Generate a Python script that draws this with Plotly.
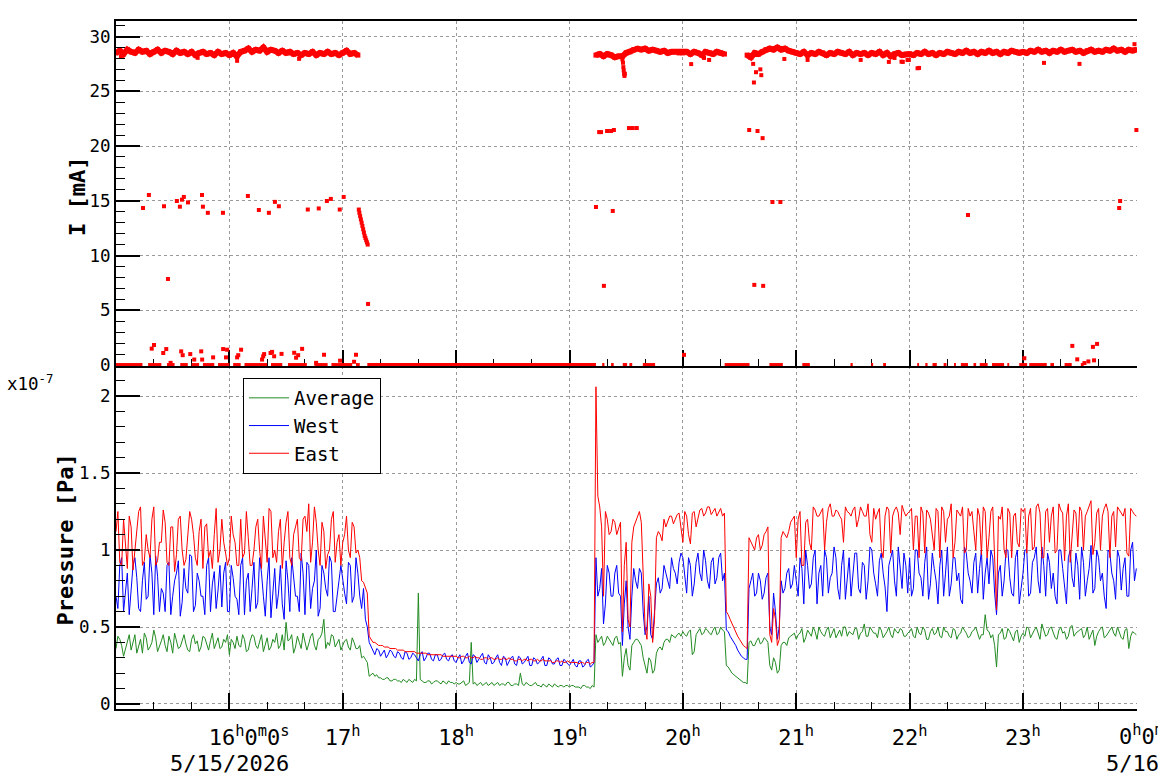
import pandas as pd
import plotly.graph_objects as go

START = pd.Timestamp("2026-05-15 15:00:00")
FONT = "DejaVu Sans Mono"

# ---------------- Pressure (units of 1e-7 Pa) ----------------
# readings at even minutes (15:00, 15:02, ... 24:00)
east_even = (
    [1.12, 0.92, 1.2, 0.88, 1.15, 1.0, 1.25, 0.9, 1.1, 0.95,
     1.28, 0.93, 1.05, 1.18, 0.9, 1.15, 0.97, 1.22, 0.9, 1.08,
     1.2, 0.95, 1.12, 0.88, 1.17, 1.0, 1.1, 0.92, 1.2, 0.98] +
    [0.95, 1.1, 0.9, 1.2, 0.98, 1.08, 0.9, 1.15, 1.0, 1.22,
     0.92, 1.25, 1.0, 1.12, 0.88, 1.18, 0.95, 1.1, 1.2, 0.93,
     1.22, 1.3, 1.05, 1.18, 0.9, 1.12, 0.97, 1.2, 0.92, 1.1] +
    [1.05, 1.22, 0.95, 1.15, 1.0, 0.8, 0.76, 0.44, 0.4, 0.39,
     0.38, 0.37, 0.37, 0.36, 0.36, 0.35, 0.35, 0.34, 0.34, 0.34,
     0.33, 0.33, 0.33, 0.32, 0.32, 0.32, 0.32, 0.31, 0.31, 0.31] +
    [0.31, 0.3, 0.31, 0.3, 0.3, 0.31, 0.3, 0.29, 0.3, 0.3,
     0.29, 0.3, 0.29, 0.29, 0.3, 0.29, 0.28, 0.29, 0.29, 0.28,
     0.29, 0.28, 0.28, 0.29, 0.28, 0.28, 0.27, 0.28, 0.28, 0.27] +
    [0.27, 0.27, 0.27, 0.27, 0.26, 0.27, 0.27, 2.06, 1.28, 0.7,
     1.2, 1.12, 1.18, 1.14, 0.47, 1.05, 0.5, 1.15, 1.22, 1.18,
     0.5, 0.78, 0.4, 1.08, 1.1, 1.2, 1.18, 1.22, 1.2, 1.24] +
    [1.05, 1.22, 1.04, 1.25, 1.2, 1.27, 1.24, 1.28, 1.25, 1.22,
     1.27, 1.24, 0.58, 0.52, 0.47, 0.42, 0.38, 0.36, 1.05, 1.0,
     1.1, 1.03, 1.12, 0.45, 0.62, 0.38, 1.08, 1.1, 1.12, 1.2] +
    [0.95, 1.25, 0.9, 1.2, 1.0, 1.26, 1.22, 1.27, 1.18, 1.3,
     1.22, 1.25, 1.2, 1.28, 1.24, 1.26, 1.15, 1.28, 1.22, 1.3,
     1.05, 1.2, 1.27, 0.95, 1.28, 0.98, 1.26, 1.24, 1.29, 1.22] +
    [1.25, 1.0, 1.22, 1.28, 0.98, 1.24, 1.1, 1.27, 0.95, 1.25,
     1.2, 1.3, 1.05, 1.24, 1.28, 1.0, 1.22, 1.12, 1.27, 0.97,
     1.25, 1.08, 1.28, 0.61, 1.2, 1.0, 1.27, 0.95, 1.24, 1.02] +
    [1.25, 0.98, 1.27, 1.02, 1.3, 0.95, 1.25, 1.05, 1.28, 1.0,
     1.26, 0.93, 1.3, 1.1, 1.24, 1.28, 1.0, 1.25, 1.32, 1.05,
     1.27, 1.22, 1.3, 0.95, 1.25, 1.28, 1.24, 1.27, 0.96, 1.25] +
    [1.22]
)
# readings at odd minutes (15:01, 15:03, ... 23:59)
east_odd = (
    [1.25, 0.9, 1.05, 1.22, 0.87, 1.1, 1.28, 0.93, 1.0, 1.2,
     0.9, 1.05, 1.26, 0.92, 1.15, 0.86, 1.2, 1.0, 0.94, 1.25,
     1.1, 0.9, 1.2, 1.15, 0.95, 0.88, 1.27, 1.0, 1.05, 0.9] +
    [1.22, 1.05, 0.9, 0.95, 1.25, 0.9, 1.0, 1.2, 0.88, 1.05,
     1.27, 0.95, 0.92, 1.2, 1.05, 1.25, 0.9, 1.15, 0.95, 1.2,
     1.12, 0.92, 1.28, 1.0, 1.18, 0.88, 1.0, 1.25, 1.05, 0.9] +
    [1.1, 1.0, 1.18, 0.98, 0.95, 0.79, 0.72, 0.42, 0.4, 0.38,
     0.38, 0.37, 0.36, 0.36, 0.35, 0.35, 0.34, 0.34, 0.34, 0.33,
     0.33, 0.33, 0.32, 0.32, 0.32, 0.32, 0.31, 0.31, 0.31, 0.31] +
    [0.3, 0.31, 0.3, 0.31, 0.3, 0.3, 0.29, 0.3, 0.29, 0.3,
     0.29, 0.29, 0.3, 0.29, 0.29, 0.28, 0.29, 0.28, 0.29, 0.29,
     0.28, 0.29, 0.28, 0.28, 0.28, 0.27, 0.28, 0.27, 0.27, 0.28] +
    [0.27, 0.27, 0.26, 0.27, 0.27, 0.26, 0.27, 1.35, 1.15, 1.25,
     1.1, 1.2, 1.1, 1.18, 0.9, 0.55, 1.05, 1.18, 1.25, 0.8,
     0.42, 0.7, 0.55, 1.12, 1.06, 1.15, 1.22, 1.17, 1.23, 1.15] +
    [1.25, 1.1, 1.24, 1.15, 1.26, 1.22, 1.28, 1.23, 1.27, 1.25,
     1.22, 0.6, 0.55, 0.5, 0.44, 0.4, 0.37, 1.08, 1.02, 1.08,
     1.0, 1.1, 1.15, 0.4, 0.55, 0.42, 1.12, 1.08, 1.18, 1.22] +
    [1.2, 0.9, 1.18, 1.05, 1.28, 1.22, 1.25, 1.0, 1.27, 1.22,
     1.26, 1.22, 1.05, 1.25, 1.22, 1.28, 1.2, 1.25, 1.22, 1.1,
     1.27, 1.24, 1.0, 1.22, 1.26, 1.22, 1.28, 1.1, 1.25, 1.24] +
    [1.27, 1.22, 0.95, 1.24, 1.26, 1.2, 1.0, 1.25, 1.28, 1.05,
     1.22, 0.95, 1.26, 1.22, 0.98, 1.27, 1.25, 1.0, 1.22, 1.28,
     0.95, 1.25, 1.0, 1.22, 1.28, 0.95, 1.24, 1.22, 1.05, 1.27] +
    [1.27, 1.22, 1.0, 1.28, 1.24, 0.95, 1.27, 1.22, 0.98, 1.3,
     1.24, 1.22, 0.92, 1.26, 1.02, 1.25, 1.22, 1.28, 0.97, 1.24,
     1.0, 1.27, 1.25, 1.22, 1.02, 1.26, 1.22, 0.98, 1.27, 1.23]
)

west_even = (
    [0.7, 0.9, 0.6, 0.85, 0.72, 0.95, 0.62, 0.8, 0.68, 0.97,
     0.58, 0.83, 0.75, 0.6, 0.92, 0.7, 0.85, 0.57, 0.88, 0.72,
     0.96, 0.64, 0.8, 0.7, 0.9, 0.6, 0.86, 0.74, 0.63, 0.92] +
    [0.6, 0.82, 0.68, 0.9, 0.58, 0.85, 0.75, 0.62, 0.95, 0.7,
     0.8, 0.56, 0.88, 0.72, 0.65, 0.93, 0.6, 0.82, 0.7, 0.98,
     0.58, 0.9, 0.75, 1.0, 0.62, 0.85, 0.7, 0.92, 0.6, 0.8] +
    [0.8, 0.65, 0.9, 0.7, 0.85, 0.62, 0.55, 0.4, 0.34, 0.36,
     0.31, 0.35, 0.32, 0.34, 0.3, 0.33, 0.29, 0.33, 0.3, 0.32,
     0.28, 0.34, 0.3, 0.33, 0.28, 0.32, 0.29, 0.33, 0.28, 0.32] +
    [0.27, 0.32, 0.28, 0.33, 0.26, 0.31, 0.29, 0.33, 0.26, 0.3,
     0.27, 0.32, 0.25, 0.3, 0.28, 0.31, 0.25, 0.3, 0.27, 0.31,
     0.25, 0.29, 0.27, 0.31, 0.25, 0.29, 0.26, 0.3, 0.25, 0.28] +
    [0.25, 0.29, 0.24, 0.28, 0.25, 0.29, 0.25, 0.95, 0.75, 0.52,
     0.9, 0.7, 0.85, 0.72, 0.38, 0.8, 0.42, 0.88, 0.75, 0.85,
     0.45, 0.7, 0.42, 0.78, 0.72, 0.9, 0.8, 0.95, 0.85, 0.92] +
    [0.95, 0.72, 0.9, 0.78, 0.98, 0.8, 0.93, 0.75, 0.95, 0.82,
     0.98, 0.85, 0.47, 0.42, 0.38, 0.33, 0.3, 0.29, 0.8, 0.7,
     0.85, 0.68, 0.82, 0.5, 0.72, 0.42, 0.8, 0.75, 0.88, 0.78] +
    [0.8, 0.95, 0.65, 0.9, 0.78, 1.0, 0.85, 0.7, 0.95, 0.82,
     1.02, 0.75, 0.9, 0.68, 0.95, 0.85, 0.98, 0.72, 0.9, 0.8,
     1.0, 0.78, 0.93, 0.85, 0.6, 0.95, 0.8, 1.02, 0.75, 0.9] +
    [0.95, 0.75, 1.0, 0.82, 0.92, 0.68, 0.98, 0.8, 0.9, 0.7,
     1.02, 0.78, 0.95, 0.85, 0.65, 0.98, 0.8, 0.92, 0.72, 1.0,
     0.85, 0.78, 0.95, 0.58, 0.9, 0.8, 1.0, 0.72, 0.95, 0.65] +
    [0.85, 1.0, 0.72, 0.95, 0.8, 1.02, 0.7, 0.92, 0.85, 0.65,
     1.0, 0.78, 0.95, 0.82, 0.98, 0.68, 0.92, 0.8, 1.03, 0.75,
     0.95, 0.85, 0.62, 0.98, 0.8, 1.0, 0.74, 0.95, 0.7, 1.05] +
    [0.88]
)
west_odd = (
    [0.62, 0.95, 0.75, 0.58, 0.9, 0.82, 0.6, 0.92, 0.7, 0.85,
     0.96, 0.6, 0.72, 0.9, 0.58, 0.8, 0.93, 0.66, 0.75, 0.97,
     0.6, 0.85, 0.7, 0.58, 0.95, 0.78, 0.62, 0.9, 0.85, 0.6] +
    [0.9, 0.7, 0.58, 0.95, 0.8, 0.6, 0.92, 0.66, 0.85, 0.57,
     0.95, 0.75, 0.62, 0.9, 0.55, 0.8, 0.95, 0.7, 0.6, 0.85,
     0.92, 0.62, 0.8, 0.57, 0.9, 0.75, 0.96, 0.6, 0.72, 0.9] +
    [0.72, 0.92, 0.66, 0.95, 0.7, 0.75, 0.5, 0.37, 0.32, 0.35,
     0.33, 0.3, 0.35, 0.31, 0.34, 0.3, 0.34, 0.29, 0.33, 0.3,
     0.32, 0.28, 0.33, 0.29, 0.32, 0.28, 0.32, 0.29, 0.31, 0.28] +
    [0.3, 0.26, 0.31, 0.27, 0.32, 0.27, 0.31, 0.27, 0.32, 0.26,
     0.3, 0.27, 0.31, 0.25, 0.3, 0.26, 0.31, 0.26, 0.29, 0.25,
     0.3, 0.26, 0.29, 0.25, 0.3, 0.26, 0.29, 0.25, 0.29, 0.26] +
    [0.27, 0.25, 0.28, 0.24, 0.28, 0.24, 0.27, 0.7, 0.88, 0.65,
     0.85, 0.7, 0.9, 0.7, 0.65, 0.5, 0.7, 0.8, 0.88, 0.6,
     0.5, 0.45, 0.6, 0.82, 0.75, 0.85, 0.75, 0.88, 0.78, 0.98] +
    [0.82, 0.95, 0.7, 0.92, 0.85, 1.0, 0.8, 0.92, 0.78, 0.95,
     0.8, 0.48, 0.44, 0.4, 0.35, 0.31, 0.29, 0.75, 0.85, 0.72,
     0.8, 0.72, 0.85, 0.45, 0.6, 0.5, 0.72, 0.85, 0.75, 0.9] +
    [0.7, 0.88, 1.0, 0.75, 0.95, 0.65, 0.9, 1.0, 0.72, 0.85,
     0.95, 0.68, 1.0, 0.8, 0.7, 0.98, 0.75, 0.92, 0.68, 1.02,
     0.85, 0.7, 0.98, 0.76, 0.9, 1.0, 0.7, 0.88, 0.98, 0.72] +
    [0.7, 1.0, 0.85, 0.7, 1.02, 0.78, 0.88, 0.65, 1.0, 0.85,
     0.7, 0.95, 0.8, 0.68, 1.02, 0.85, 0.72, 0.98, 0.88, 0.68,
     0.95, 1.0, 0.72, 0.85, 0.7, 1.0, 0.82, 0.7, 1.0, 0.75] +
    [1.0, 0.7, 0.92, 1.02, 0.72, 0.9, 0.98, 0.75, 0.7, 1.0,
     0.88, 0.65, 1.0, 0.76, 0.9, 1.02, 0.7, 0.88, 0.72, 1.0,
     0.8, 0.7, 1.0, 0.85, 0.68, 0.95, 0.88, 0.7, 1.0, 0.8]
)

average_even = (
    [0.36, 0.42, 0.31, 0.4, 0.35, 0.45, 0.38, 0.33, 0.43, 0.37,
     0.48, 0.34, 0.41, 0.38, 0.44, 0.33, 0.4, 0.37, 0.45, 0.35,
     0.42, 0.39, 0.34, 0.44, 0.38, 0.41, 0.36, 0.43, 0.37, 0.4] +
    [0.32, 0.4, 0.44, 0.37, 0.42, 0.35, 0.45, 0.38, 0.41, 0.34,
     0.43, 0.37, 0.4, 0.36, 0.45, 0.53, 0.42, 0.33, 0.44, 0.36,
     0.41, 0.39, 0.46, 0.35, 0.43, 0.55, 0.4, 0.45, 0.37, 0.42] +
    [0.38, 0.42, 0.35, 0.4, 0.36, 0.3, 0.29, 0.18, 0.2, 0.19,
     0.17, 0.16, 0.17, 0.15, 0.16, 0.15, 0.16, 0.14, 0.15, 0.16,
     0.72, 0.15, 0.14, 0.15, 0.14, 0.15, 0.13, 0.14, 0.15, 0.14] +
    [0.14, 0.13, 0.15, 0.13, 0.4, 0.14, 0.13, 0.12, 0.14, 0.13,
     0.12, 0.14, 0.13, 0.12, 0.14, 0.12, 0.13, 0.2, 0.12, 0.13,
     0.12, 0.14, 0.12, 0.13, 0.11, 0.12, 0.13, 0.11, 0.12, 0.12] +
    [0.11, 0.12, 0.11, 0.1, 0.12, 0.11, 0.12, 0.45, 0.42, 0.38,
     0.44, 0.4, 0.43, 0.39, 0.18, 0.36, 0.22, 0.4, 0.42, 0.38,
     0.25, 0.3, 0.2, 0.33, 0.37, 0.4, 0.42, 0.45, 0.43, 0.46] +
    [0.47, 0.44, 0.48, 0.34, 0.47, 0.45, 0.49, 0.46, 0.48, 0.45,
     0.5, 0.47, 0.24, 0.2, 0.18, 0.16, 0.14, 0.13, 0.41, 0.38,
     0.43, 0.4, 0.42, 0.25, 0.3, 0.2, 0.38, 0.4, 0.43, 0.45] +
    [0.42, 0.46, 0.4, 0.48, 0.44, 0.47, 0.5, 0.45, 0.48, 0.43,
     0.49, 0.46, 0.44, 0.5, 0.47, 0.45, 0.49, 0.46, 0.52, 0.44,
     0.48, 0.46, 0.5, 0.43, 0.47, 0.45, 0.49, 0.46, 0.48, 0.44] +
    [0.47, 0.44, 0.5, 0.45, 0.48, 0.42, 0.49, 0.46, 0.44, 0.5,
     0.47, 0.43, 0.48, 0.45, 0.5, 0.46, 0.44, 0.48, 0.45, 0.45,
     0.58, 0.47, 0.45, 0.24, 0.46, 0.42, 0.49, 0.44, 0.47, 0.4] +
    [0.46, 0.5, 0.43, 0.48, 0.45, 0.52, 0.44, 0.49, 0.46, 0.42,
     0.5, 0.47, 0.44, 0.51, 0.46, 0.48, 0.43, 0.5, 0.45, 0.38,
     0.47, 0.5, 0.44, 0.48, 0.46, 0.5, 0.43, 0.48, 0.36, 0.47] +
    [0.45]
)
average_odd = (
    [0.44, 0.38, 0.36, 0.45, 0.4, 0.33, 0.42, 0.46, 0.35, 0.4,
     0.43, 0.37, 0.45, 0.34, 0.4, 0.46, 0.36, 0.42, 0.39, 0.34,
     0.45, 0.41, 0.37, 0.43, 0.35, 0.46, 0.4, 0.36, 0.42, 0.45] +
    [0.42, 0.36, 0.38, 0.45, 0.34, 0.41, 0.44, 0.36, 0.45, 0.39,
     0.35, 0.42, 0.46, 0.38, 0.35, 0.41, 0.45, 0.37, 0.4, 0.46,
     0.35, 0.44, 0.38, 0.42, 0.46, 0.36, 0.38, 0.44, 0.4, 0.35] +
    [0.41, 0.37, 0.43, 0.36, 0.38, 0.31, 0.27, 0.19, 0.18, 0.17,
     0.16, 0.17, 0.15, 0.16, 0.15, 0.14, 0.15, 0.16, 0.14, 0.15,
     0.16, 0.14, 0.15, 0.13, 0.15, 0.14, 0.15, 0.13, 0.14, 0.13] +
    [0.13, 0.14, 0.12, 0.14, 0.13, 0.12, 0.14, 0.13, 0.12, 0.14,
     0.13, 0.12, 0.13, 0.14, 0.12, 0.13, 0.12, 0.13, 0.14, 0.12,
     0.13, 0.12, 0.11, 0.12, 0.13, 0.11, 0.12, 0.12, 0.11, 0.12] +
    [0.12, 0.11, 0.11, 0.12, 0.11, 0.1, 0.11, 0.4, 0.44, 0.4,
     0.42, 0.38, 0.44, 0.4, 0.3, 0.25, 0.38, 0.42, 0.4, 0.3,
     0.2, 0.28, 0.22, 0.36, 0.35, 0.42, 0.4, 0.44, 0.45, 0.44] +
    [0.45, 0.47, 0.32, 0.45, 0.49, 0.46, 0.48, 0.45, 0.5, 0.46,
     0.48, 0.25, 0.22, 0.19, 0.17, 0.15, 0.14, 0.4, 0.38, 0.41,
     0.39, 0.43, 0.4, 0.22, 0.27, 0.22, 0.4, 0.38, 0.44, 0.46] +
    [0.45, 0.49, 0.43, 0.46, 0.5, 0.42, 0.47, 0.44, 0.5, 0.46,
     0.43, 0.48, 0.5, 0.44, 0.46, 0.49, 0.42, 0.47, 0.44, 0.5,
     0.46, 0.43, 0.48, 0.45, 0.5, 0.43, 0.47, 0.49, 0.44, 0.46] +
    [0.49, 0.43, 0.46, 0.5, 0.42, 0.47, 0.45, 0.5, 0.43, 0.47,
     0.44, 0.49, 0.42, 0.46, 0.48, 0.43, 0.47, 0.5, 0.42, 0.45,
     0.48, 0.43, 0.38, 0.45, 0.49, 0.43, 0.47, 0.41, 0.48, 0.44] +
    [0.44, 0.49, 0.46, 0.5, 0.42, 0.47, 0.45, 0.5, 0.43, 0.48,
     0.46, 0.42, 0.5, 0.44, 0.47, 0.49, 0.45, 0.42, 0.48, 0.44,
     0.49, 0.43, 0.46, 0.5, 0.44, 0.47, 0.42, 0.49, 0.44, 0.46]
)

# ---------------- Beam current I [mA] ----------------
# main beam level, one reading every 2 min (None = no beam)
current_band = (
    [28.5, 28.7, 28.4, 28.8, 28.6, 28.5, 28.8, 28.6, 28.7, 28.4,
     28.6, 28.8, 28.5, 28.7, 28.6, 28.4, 28.7, 28.5, 28.6, 28.4,
     28.6, 28.3, 28.5, 28.6, 28.4, 28.5, 28.3, 28.6, 28.4, 28.5] +
    [28.3, 28.5, 28.2, 28.6, 28.7, 28.9, 28.6, 28.8, 28.7, 29.0,
     28.6, 28.8, 28.7, 28.5, 28.7, 28.5, 28.6, 28.4, 28.5, 28.3,
     28.5, 28.4, 28.6, 28.3, 28.5, 28.4, 28.6, 28.4, 28.5, 28.3] +
    [28.5, 28.7, 28.4, 28.5, 28.3] + [None] * 25 +
    [None] * 30 +
    [None] * 7 +
    [28.3, 28.4, 28.2, 28.4, 28.3, 28.1, 28.2, 28.2, 28.5, 28.6,
     28.8, 28.9, 28.8, 28.9, 28.7, 28.8, 28.7, 28.6, 28.7, 28.5,
     28.6, 28.6, 28.5] +
    [28.5, 28.6, 28.4, 28.6, 28.5, 28.3, 28.6, 28.5, 28.4, 28.6,
     28.5, 28.4] + [None] * 5 +
    [28.3, 28.1, 28.5, 28.4, 28.6, 28.8, 28.9, 28.8, 29.0, 28.8,
     28.9, 28.7, 28.6] +
    [28.5, 28.4, 28.6, 28.3, 28.5, 28.4, 28.6, 28.5, 28.3, 28.5,
     28.4, 28.6, 28.5, 28.4, 28.6, 28.3, 28.5, 28.4, 28.5, 28.3,
     28.5, 28.4, 28.6, 28.3, 28.5, 28.2, 28.4, 28.5, 28.3, 28.4] +
    [28.4, 28.3, 28.5, 28.4, 28.6, 28.4, 28.5, 28.3, 28.5, 28.4,
     28.6, 28.5, 28.4, 28.6, 28.5, 28.7, 28.5, 28.6, 28.4, 28.6,
     28.5, 28.7, 28.5, 28.6, 28.4, 28.6, 28.5, 28.7, 28.6, 28.5] +
    [28.6, 28.5, 28.7, 28.6, 28.8, 28.6, 28.7, 28.5, 28.7, 28.6,
     28.8, 28.6, 28.7, 28.8, 28.6, 28.7, 28.5, 28.7, 28.8, 28.6,
     28.7, 28.6, 28.8, 28.7, 28.9, 28.7, 28.8, 28.6, 28.8, 28.7] +
    [28.8]
)

# isolated readings: minutes after 15:00 and value [mA]
outlier_minutes = [
    14.3, 17.4, 25.4, 32.2, 33.8, 34.9, 35.9, 38.1, 45.5, 46.0, 48.6, 56.6, 69.8, 75.6,
    80.9, 84.1, 86.2, 101.5, 107.3, 111.6, 113.7, 118.4, 120.5, 27.5, 133.4,
    128.5, 128.8, 129.2, 129.6, 130.0, 130.4, 130.8, 131.2, 131.6, 132.0, 132.4, 132.8, 133.2,
    18.9, 20.1, 25.0, 26.6, 28.9, 34.5, 35.3, 39.3, 41.4, 45.1, 45.6, 51.4, 56.7, 58.8,
    58.2, 64.1, 64.7, 66.2, 77.3, 77.9, 78.4, 81.8, 82.6, 83.7, 87.6, 94.3, 95.3, 96.4,
    98.5, 105.9, 110.1, 118.6, 126.0, 127.0,
    2.6, 64.1, 96.9, 43.2,
    254.0, 255.7, 256.7, 258.2, 259.9, 262.0, 262.9, 263.5, 271.5, 273.5, 275.6,
    268.0, 268.3, 268.5, 268.7, 268.9, 269.1, 269.3,
    300.6, 304.4, 311.2, 313.9, 335.1, 337.2, 337.6, 337.8, 338.7, 339.5, 341.0, 341.5,
    342.2, 342.5, 347.4, 351.6, 353.7, 366.0, 394.1, 409.0, 412.0, 416.4, 419.6, 425.0,
    415.7, 418.9, 424.2, 450.9, 480.7, 491.1, 506.1, 508.7, 509.9, 512.5, 514.6, 517.0,
    517.6, 519.2, 530.9, 531.4, 539.0, 540.0,
]
outlier_values = [
    14.34, 15.53, 14.5, 14.98, 14.46, 15.1, 15.35, 14.85, 15.53, 14.46, 13.9, 13.9, 15.44, 14.16,
    13.9, 14.9, 14.5, 14.2, 14.3, 14.98, 15.17, 14.2, 15.35, 7.86, 5.58,
    14.2, 13.9, 13.6, 13.3, 13.0, 12.7, 12.4, 12.1, 11.8, 11.6, 11.4, 11.2, 11.0,
    1.5, 1.83, 1.1, 1.46, 0.2, 1.25, 0.9, 1.0, 0.5, 1.25, 0.5, 0.7, 1.46, 1.4,
    0.7, 0.7, 0.9, 1.4, 0.5, 0.8, 1.0, 1.1, 1.2, 0.8, 1.02, 1.12, 0.67, 0.9,
    1.48, 0.2, 0.94, 0.4, 0.3, 0.94,
    28.18, 27.78, 27.96, 28.05,
    14.43, 21.27, 21.27, 7.23, 21.37, 21.37, 14.07, 21.46, 21.64, 21.64, 21.64,
    27.9, 27.6, 27.2, 26.9, 26.6, 26.4, 26.6,
    0.93, 27.48, 28.04, 27.86, 21.46, 27.5, 25.8, 7.32, 26.74, 21.37, 27.0, 26.47,
    20.72, 7.23, 14.89, 14.89, 27.95, 27.86, 27.86, 27.68, 28.04, 27.68, 27.86, 27.13,
    27.7, 27.85, 27.1, 13.7, 0.62, 27.59, 1.75, 0.52, 27.5, 0.18, 0.33, 1.66,
    0.43, 1.93, 14.34, 14.98, 29.3, 21.46,
]

# intervals (minutes after 15:00) where I reads 0 mA
zero_start = [0, 17, 27, 34, 40, 46, 54, 62, 68, 82, 91, 105, 114, 127, 133,
              257.3, 262.0, 268.2, 271.7, 278.8, 322.1, 345.8, 363.2, 388.7, 399.7,
              406.0, 424.0, 428.3, 432.1, 438.0, 443.5, 447.1, 453.8, 457.1, 463.6,
              471.7, 478.0, 483.3, 494.5, 502.0, 510.6]
zero_end = [14, 24, 31, 38, 44, 52, 60, 66, 80, 88, 101, 112, 125, 129, 254,
            258.5, 263.4, 270.5, 273.2, 285.3, 335.3, 352.9, 367.2, 389.9, 400.7,
            407.5, 425.0, 429.5, 434.4, 439.5, 444.5, 450.9, 455.2, 461.3, 470.0,
            472.7, 482.2, 492.6, 496.4, 505.8, 512.1]

hour_labels = [
    "\u00a0\u00a0\u00a016<sup>h</sup>0<sup>m</sup>0<sup>s</sup>",
    "17<sup>h</sup>", "18<sup>h</sup>", "19<sup>h</sup>", "20<sup>h</sup>",
    "21<sup>h</sup>", "22<sup>h</sup>", "23<sup>h</sup>", "",
]
date_start_label = "5/15/2026"
end_time_label = "0<sup>h</sup>0<sup>m</sup>0<sup>s</sup>"
date_end_label = "5/16/2026"

# ---------------- build ----------------
def merge(even, odd):
    out = []
    for i, v in enumerate(even):
        out.append(v)
        if i < len(odd):
            out.append(odd[i])
    return out


east = merge(east_even, east_odd)
west = merge(west_even, west_odd)
average = merge(average_even, average_odd)

times_1min = pd.date_range(START, periods=len(east), freq="1min")
times_2min = pd.date_range(START, periods=len(current_band), freq="2min")
hours = pd.date_range(START + pd.Timedelta(hours=1), periods=9, freq="1h")
x_range = [START, START + pd.Timedelta(hours=9, seconds=20)]


def at(m):
    return START + pd.Timedelta(minutes=m)


zx, zy = [], []
for s, e in zip(zero_start, zero_end):
    zx += [at(s), at(e), None]
    zy += [0, 0, None]

fig = go.Figure()

fig.add_trace(go.Scatter(x=zx, y=zy, mode="lines", line=dict(color="red", width=4),
                         xaxis="x2", yaxis="y2", showlegend=False, hoverinfo="skip"))
fig.add_trace(go.Scatter(x=times_2min, y=current_band, mode="lines+markers",
                         line=dict(color="red", width=6),
                         marker=dict(color="red", size=5, symbol="square"),
                         xaxis="x2", yaxis="y2", showlegend=False, connectgaps=False))
fig.add_trace(go.Scatter(x=[at(m) for m in outlier_minutes], y=outlier_values, mode="markers",
                         marker=dict(color="red", size=4, symbol="square"),
                         xaxis="x2", yaxis="y2", showlegend=False, cliponaxis=False))

fig.add_trace(go.Scatter(x=times_1min, y=average, mode="lines", name="Average",
                         line=dict(color="#228b22", width=1)))
fig.add_trace(go.Scatter(x=times_1min, y=west, mode="lines", name="West",
                         line=dict(color="#0000ff", width=1)))
fig.add_trace(go.Scatter(x=times_1min, y=east, mode="lines", name="East",
                         line=dict(color="#ff0000", width=1)))

grid = dict(showgrid=True, gridcolor="#9a9a9a", griddash="dot", gridwidth=1, zeroline=False)
xcommon = dict(
    type="date", range=x_range,
    tickmode="array", tickvals=hours, ticks="inside", ticklen=16, tickwidth=2,
    tickcolor="black", showline=True, linecolor="black", linewidth=2,
    minor=dict(tick0=START, dtick=20 * 60 * 1000, ticks="inside", ticklen=7,
               tickwidth=1, tickcolor="black", showgrid=False),
    **grid,
)
ycommon = dict(ticks="inside", ticklen=24, tickwidth=2, tickcolor="black",
               showline=True, linecolor="black", linewidth=2,
               tickfont=dict(family=FONT, size=17.5, color="black"), **grid)

lab_font = dict(family=FONT, size=22, color="black")

fig.update_layout(
    width=1158, height=782,
    margin=dict(l=116, r=21, t=21, b=73, pad=0),
    paper_bgcolor="white", plot_bgcolor="white",
    font=dict(family=FONT, color="black"),
    xaxis=dict(anchor="y", domain=[0, 1], ticktext=hour_labels, tickangle=0,
               tickfont=lab_font, ticklabelstandoff=8, **xcommon),
    xaxis2=dict(anchor="y2", domain=[0, 1], matches="x", showticklabels=False,
                mirror=True, layer="below traces", **xcommon),
    yaxis=dict(domain=[0, 0.4985], range=[-0.0325, 2.1948],
               tickmode="array", tickvals=[0, 0.5, 1, 1.5, 2],
               ticktext=["0", "0.5", "1", "1.5", "2"],
               minor=dict(tick0=0, dtick=0.1, ticks="inside", ticklen=9, tickwidth=1,
                          tickcolor="black", showgrid=False),
               **ycommon),
    yaxis2=dict(domain=[0.4985, 1], range=[-0.09, 31.415], anchor="x2",
                tickmode="array", tickvals=[0, 5, 10, 15, 20, 25, 30],
                ticktext=["0", "5", "10", "15", "20", "25", "30"],
                minor=dict(tick0=0, dtick=1, ticks="inside", ticklen=9, tickwidth=1,
                           tickcolor="black", showgrid=False),
                **ycommon),
    legend=dict(x=0.1244, y=0.4811, xanchor="left", yanchor="top",
                bgcolor="white", bordercolor="black", borderwidth=1,
                font=dict(family=FONT, size=19, color="black"), itemwidth=40,
                tracegroupgap=0),
    annotations=[
        dict(text="x10<sup>-7</sup>", xref="paper", yref="paper",
             x=-0.1087, y=0.4738, xanchor="left", yanchor="middle",
             showarrow=False, font=dict(family=FONT, size=17.5, color="black")),
        dict(text="<b>I [mA]</b>", xref="paper", yref="paper", textangle=-90,
             x=-0.0382, y=0.7456, xanchor="center", yanchor="middle",
             showarrow=False, font=dict(family=FONT, size=22, color="black")),
        dict(text="<b>Pressure [Pa]</b>", xref="paper", yref="paper", textangle=-90,
             x=-0.0495, y=0.247, xanchor="center", yanchor="middle",
             showarrow=False, font=dict(family=FONT, size=22, color="black")),
        dict(text=date_start_label, xref="x", yref="paper", x=hours[0], y=-0.0785,
             xanchor="center", yanchor="middle", borderpad=0, showarrow=False,
             font=lab_font),
        dict(text=end_time_label, xref="x", yref="paper", x=hours[-1], y=-0.0378,
             xanchor="left", yanchor="middle", xshift=-18, borderpad=0,
             showarrow=False, font=lab_font),
        dict(text=date_end_label, xref="x", yref="paper", x=hours[-1], y=-0.0785,
             xanchor="left", yanchor="middle", xshift=-31, borderpad=0,
             showarrow=False, font=lab_font),
    ],
    showlegend=True,
)

fig.write_html("out.html")
